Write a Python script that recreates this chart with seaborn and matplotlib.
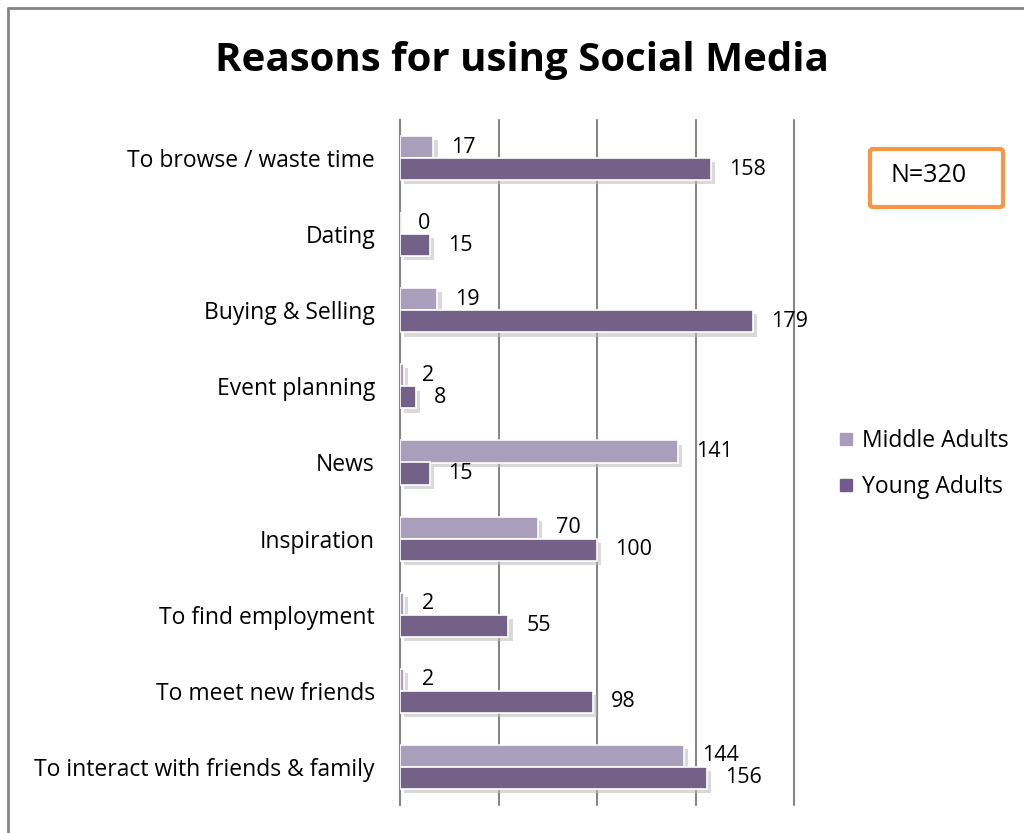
import matplotlib
matplotlib.use("Agg")
import matplotlib.pyplot as plt
import matplotlib.patheffects as pe
from matplotlib.lines import Line2D
from matplotlib.patches import FancyBboxPatch
import seaborn as sns
import pandas as pd

categories = ["To browse / waste time", "Dating", "Buying & Selling", "Event planning",
              "News", "Inspiration", "To find employment", "To meet new friends",
              "To interact with friends & family"]
middle_adults = [17, 0, 19, 2, 141, 70, 2, 2, 144]
young_adults = [158, 15, 179, 8, 15, 100, 55, 98, 156]
series = ["Middle Adults", "Young Adults"]
colors = {"Middle Adults": "#A99BBE", "Young Adults": "#725A8F"}
title = "Reasons for using Social Media"
note = "N=320"

df = pd.DataFrame({
    "Reason": categories * 2,
    "Count": middle_adults + young_adults,
    "Group": [series[0]] * len(categories) + [series[1]] * len(categories),
})

sns.set_theme(style="white")
plt.rcParams["font.family"] = ["Open Sans", "DejaVu Sans"]
plt.rcParams["text.color"] = "black"
plt.rcParams["ytick.color"] = "black"
plt.rcParams["xtick.color"] = "black"

fig = plt.figure(figsize=(10.24, 8.33), dpi=100)
ax = fig.add_axes([400/1024, 1 - 805/833, (794-400)/1024, (805-120)/833])

sns.barplot(data=df, y="Reason", x="Count", hue="Group", order=categories,
            hue_order=series, palette=colors, orient="h", width=0.58,
            edgecolor="white", linewidth=1.2, ax=ax, legend=False, zorder=3)

for p in ax.patches:
    p.set_path_effects([pe.SimplePatchShadow(offset=(3, -3), shadow_rgbFace="#bbbbbb", alpha=0.55),
                        pe.Normal()])

for cont in ax.containers:
    ax.bar_label(cont, padding=13, fontsize=15.5, color="black")

ax.set_xlim(0, 200)
ax.set_xticks([0, 50, 100, 150, 200])
ax.set_xticklabels([])
ax.xaxis.grid(True, color="#868686", linewidth=1.5, zorder=0)
for gl in ax.get_xgridlines():
    gl.set_clip_on(False)
ax.set_axisbelow(True)
for s in ["top", "right", "bottom"]:
    ax.spines[s].set_visible(False)
ax.spines["left"].set_color("#868686")
ax.spines["left"].set_linewidth(1.5)
ax.set_xlabel("")
ax.set_ylabel("")
ax.tick_params(axis="y", length=0, pad=18, labelsize=16.5, labelcolor="black")
ax.tick_params(axis="x", length=0)

fig.text(522/1024, 1 - 60/833, title, ha="center", va="center", fontsize=29,
         fontweight="bold", color="black", family=["Open Sans", "DejaVu Sans"])

# legend
handles = [Line2D([0], [0], marker="s", linestyle="", markersize=9,
                  markerfacecolor=colors[s], markeredgecolor=colors[s]) for s in series]
fig.legend(handles, series, loc="center left", bbox_to_anchor=(812/1024, 1 - 464/833),
           frameon=False, fontsize=16.5, handletextpad=0.1, labelspacing=1.0,
           handlelength=1.2, labelcolor="black")

# N box
box = FancyBboxPatch((870/1024, 1 - 207/833), (1003-870)/1024, (207-149)/833,
                     boxstyle="round,pad=0,rounding_size=0.003", transform=fig.transFigure,
                     facecolor="white", edgecolor="#F79646", linewidth=3)
fig.patches.append(box)
fig.text(929/1024, 1 - 176/833, note, ha="center", va="center", fontsize=18, color="black")

# outer frame
fig.add_artist(Line2D([8/1024, 1], [1 - 8/833, 1 - 8/833], transform=fig.transFigure,
                      color="#868686", linewidth=2))
fig.add_artist(Line2D([8/1024, 8/1024], [0, 1 - 8/833], transform=fig.transFigure,
                      color="#868686", linewidth=2))

fig.savefig("out.png", dpi=100, facecolor="white")
